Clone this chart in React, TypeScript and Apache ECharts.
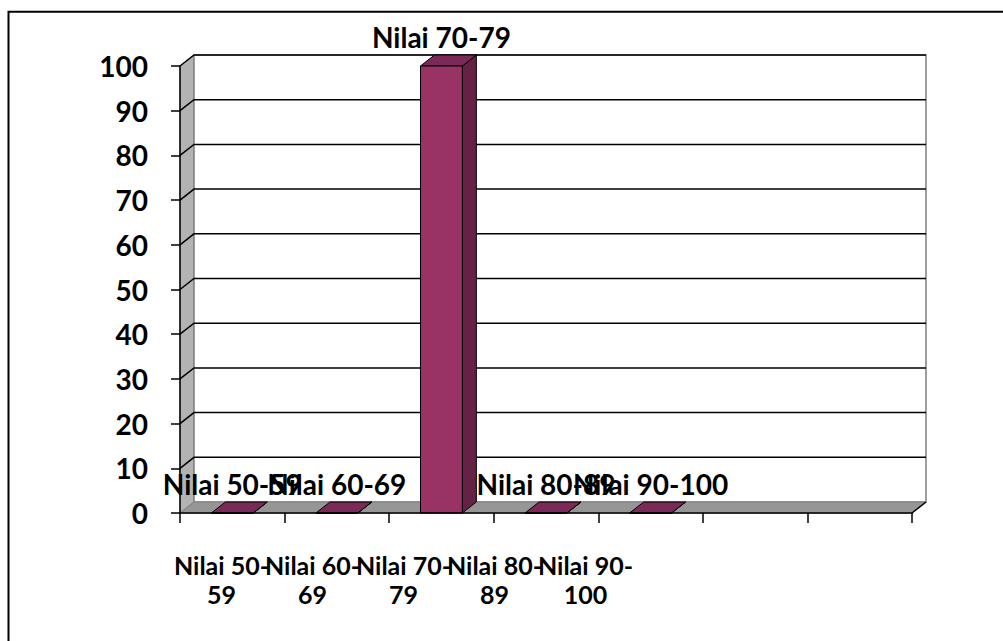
import React, { useEffect, useRef } from "react";
import * as echarts from "echarts";

// ---- data ----
const categories = ["Nilai 50-59", "Nilai 60-69", "Nilai 70-79", "Nilai 80-89", "Nilai 90-100"];
const emptySlots = ["", ""];
const values = [0, 0, 100, 0, 0];
const yTicks = [0, 10, 20, 30, 40, 50, 60, 70, 80, 90, 100];
const yMin = 0;
const yMax = 100;
const yStep = 10;

// ---- style ----
const DX = 14;
const DY = -11;
const FONT_SIZE = 28;
const FONT = `bold ${FONT_SIZE}px Lato`;
const BAR_FRONT = "#993366";
const BAR_TOP = "#7b2a57";
const BAR_SIDE = "#662244";

export default function App() {
  const ref = useRef<HTMLDivElement>(null);

  useEffect(() => {
    document.body.style.margin = "0";
    const chart = echarts.init(ref.current!, null, { renderer: "svg" });
    const allCats = [...categories, ...emptySlots];

    const wallsRender = (params: any, api: any) => {
      const cs = params.coordSys;
      const x0 = cs.x;
      const x1 = cs.x + cs.width;
      const yB = api.coord([0, yMin])[1];
      const yT = api.coord([0, yMax])[1];
      const children: any[] = [
        {
          type: "polygon",
          shape: { points: [[x0, yB], [x0, yT], [x0 + DX, yT + DY], [x0 + DX, yB + DY]] },
          style: { fill: "#b3b3b3", stroke: "#808080", lineWidth: 1 },
        },
        {
          type: "rect",
          shape: { x: x0 + DX, y: yT + DY, width: x1 - x0, height: yB - yT },
          style: { fill: "#ffffff", stroke: "#808080", lineWidth: 1.5 },
        },
        {
          type: "polygon",
          shape: { points: [[x0, yB], [x1, yB], [x1 + DX, yB + DY], [x0 + DX, yB + DY]] },
          style: { fill: "#969696", stroke: "#808080", lineWidth: 1 },
        },
        {
          type: "line",
          shape: { x1: x1, y1: yB, x2: x1 + DX, y2: yB + DY },
          style: { stroke: "#000", lineWidth: 1.5 },
        },
      ];
      yTicks.forEach((v) => {
        if (v === yMin) return;
        const y = api.coord([0, v])[1];
        children.push({
          type: "polyline",
          shape: { points: [[x0, y], [x0 + DX, y + DY], [x1 + DX, y + DY]] },
          style: { stroke: "#000", lineWidth: 1.5, fill: "none" },
        });
      });
      return { type: "group", children };
    };

    const barsRender = (params: any, api: any) => {
      const i = api.value(0);
      const v = api.value(1);
      const top = api.coord([i, v]);
      const cx = top[0];
      const yTop = top[1];
      const yBase = api.coord([i, 0])[1];
      const bw = api.size([1, 0])[0] * 0.4;
      const xl = cx - bw / 2;
      const xr = cx + bw / 2;
      return {
        type: "group",
        children: [
          {
            type: "polygon",
            shape: { points: [[xr, yTop], [xr + DX, yTop + DY], [xr + DX, yBase + DY], [xr, yBase]] },
            style: { fill: BAR_SIDE, stroke: "#000", lineWidth: 1 },
          },
          {
            type: "polygon",
            shape: { points: [[xl, yTop], [xl + DX, yTop + DY], [xr + DX, yTop + DY], [xr, yTop]] },
            style: { fill: BAR_TOP, stroke: "#000", lineWidth: 1 },
          },
          {
            type: "rect",
            shape: { x: xl, y: yTop, width: bw, height: yBase - yTop },
            style: { fill: BAR_FRONT, stroke: "#000", lineWidth: 1 },
          },
          {
            type: "text",
            x: cx,
            y: yTop - 29,
            z2: 100,
            style: {
              text: categories[i],
              align: "center",
              verticalAlign: "middle",
              font: FONT,
              fill: "#000",
            },
          },
        ],
      };
    };

    chart.setOption({
      animation: false,
      backgroundColor: "#ffffff",
      graphic: [
        {
          type: "rect",
          shape: { x: 8.5, y: 11.8, width: 1100, height: 700 },
          style: { fill: "none", stroke: "#000", lineWidth: 2 },
          silent: true,
        },
      ],
      grid: [
        { left: 180, right: 91, top: 66, bottom: 128 },
        { left: 176, width: 455, top: 66, bottom: 128 },
      ],
      xAxis: [
        {
          type: "category",
          gridIndex: 0,
          data: allCats,
          z: 10,
          axisLine: { show: true, lineStyle: { color: "#000", width: 1.5 } },
          axisTick: { show: true, length: 10, lineStyle: { color: "#000", width: 1.5 } },
          axisLabel: { show: false },
          splitLine: { show: false },
        },
        {
          type: "category",
          gridIndex: 1,
          data: categories,
          axisLine: { show: false },
          axisTick: { show: false },
          splitLine: { show: false },
          axisLabel: {
            show: true,
            interval: 0,
            margin: 37,
            color: "#000",
            fontFamily: "Lato",
            fontWeight: "bold",
            fontSize: 25,
            lineHeight: 29,
            formatter: (val: string) => {
              const k = val.indexOf("-");
              return val.slice(0, k + 1) + "\n" + val.slice(k + 1);
            },
          },
        },
      ],
      yAxis: [
        {
          type: "value",
          gridIndex: 0,
          min: yMin,
          max: yMax,
          interval: yStep,
          z: 10,
          axisLine: { show: true, lineStyle: { color: "#000", width: 1.5 } },
          axisTick: { show: true, length: 9, lineStyle: { color: "#000", width: 1.5 } },
          axisLabel: {
            margin: 32,
            color: "#000",
            fontFamily: "Lato",
            fontWeight: "bold",
            fontSize: FONT_SIZE,
          },
          splitLine: { show: false },
        },
        { type: "value", gridIndex: 1, min: yMin, max: yMax, show: false },
      ],
      series: [
        {
          type: "custom",
          name: "walls",
          xAxisIndex: 0,
          yAxisIndex: 0,
          z: 1,
          silent: true,
          data: [[0, 0]],
          renderItem: wallsRender,
        },
        {
          type: "custom",
          name: "Nilai",
          xAxisIndex: 0,
          yAxisIndex: 0,
          z: 3,
          data: values.map((v, i) => [i, v]),
          renderItem: barsRender,
        },
      ],
    });

    return () => chart.dispose();
  }, []);

  return <div ref={ref} style={{ width: 1003, height: 641 }} />;
}
